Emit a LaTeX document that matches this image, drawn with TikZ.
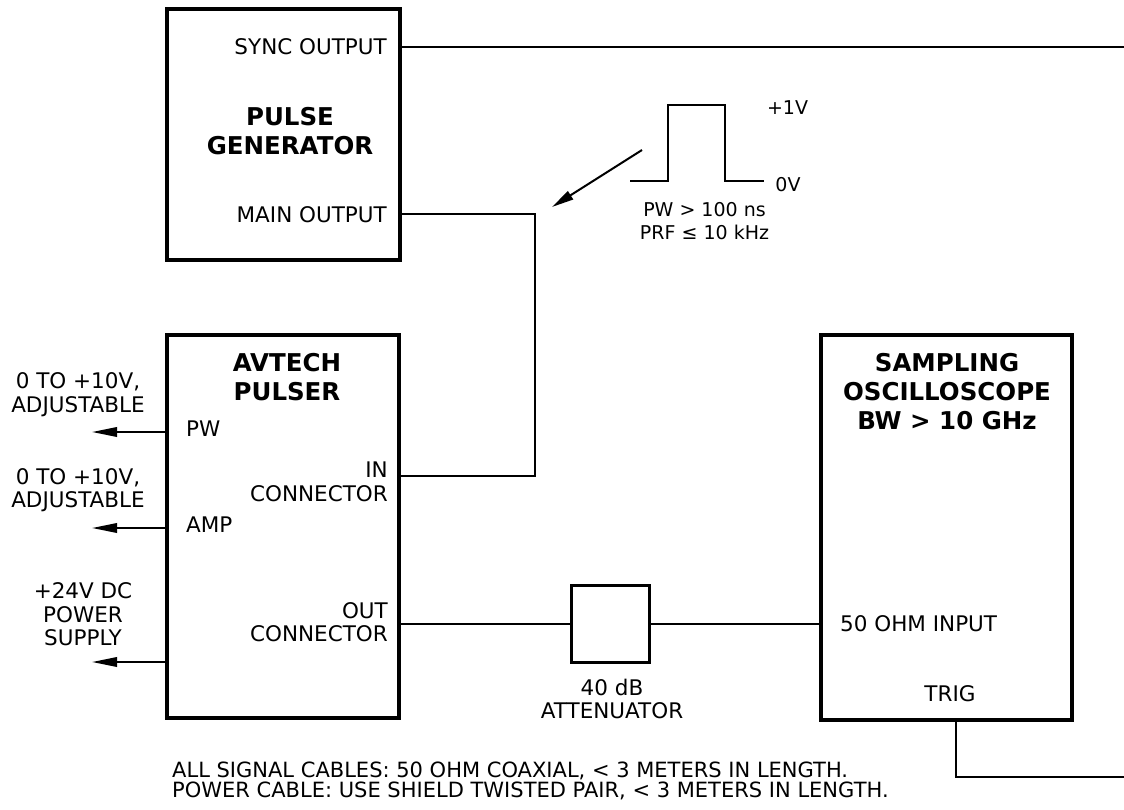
\documentclass[tikz,border=0pt]{standalone}
\usepackage{fontspec}
\setmainfont{DejaVu Sans}
\usetikzlibrary{arrows.meta,positioning}

\tikzset{
  unit/.style={draw, line width=4pt, inner sep=0pt},
  lbl/.style={inner sep=0pt, font=\fontsize{21.5}{23.5}\selectfont},
  small/.style={inner sep=0pt, font=\fontsize{19}{22.5}\selectfont, align=center},
  title/.style={inner sep=0pt, font=\fontsize{24.5}{29}\selectfont\bfseries, align=center},
  cable/.style={line width=2pt},
  feed/.style={line width=2pt, -{Triangle[length=25pt,width=9.5pt]}},
}

\begin{document}
\begin{tikzpicture}[x=1pt,y=-1pt]
\fill[white] (0,0) rectangle (1124,809);
\useasboundingbox (0,0) rectangle (1124,809);

% instruments
\node[unit, minimum width=233, minimum height=251] (gen) at (283.5,134.5) {};
\node[unit, minimum width=232, minimum height=383] (pulser) at (283,526.5) {};
\node[unit, line width=3pt, minimum width=78, minimum height=77] (att) at (610,623.5) {};
\node[unit, minimum width=251, minimum height=385] (scope) at (946.5,527.5) {};

% titles
\node[title] (gentitle) at (290,131) {PULSE\\GENERATOR};
\node[title] (pulsertitle) at (287,377) {AVTECH\\PULSER};
\node[title] (scopetitle) at (947,391.5) {SAMPLING\\OSCILLOSCOPE\\BW > 10 GHz};

% port labels
\node[lbl, anchor=east] (sync) at (387,47) {SYNC OUTPUT};
\node[lbl, anchor=east] (mainout) at (387,214.5) {MAIN OUTPUT};
\node[lbl, anchor=west] (pw) at (186,429) {PW};
\node[lbl, anchor=west] (amp) at (186,525) {AMP};
\node[lbl, anchor=east, align=right] (inconn) at (388,482) {IN\\CONNECTOR};
\node[lbl, anchor=east, align=right] (outconn) at (388,622) {OUT\\CONNECTOR};
\node[lbl, anchor=west] (input) at (840,623.5) {50 OHM INPUT};
\node[lbl] (trig) at (950,693.5) {TRIG};
\node[lbl, align=center] (attlbl) at (612,699) {40 dB\\ATTENUATOR};

% outside labels
\node[lbl, align=center] (pwset) at (78,394.5) {0 TO +10V,\\ADJUSTABLE};
\node[lbl, align=center] (ampset) at (78,490) {0 TO +10V,\\ADJUSTABLE};
\node[lbl, align=center] (power) at (83,614.5) {+24V DC\\POWER\\SUPPLY};

% pulse shape
\draw[cable] (630,181) -- (668,181) -- (668,105) -- (725,105) -- (725,181) -- (764,181);
\node[small] (high) at (787.5,108) {+1V};
\node[small] (low) at (788,184.5) {0V};
\node[small] (spec) at (704.5,221) {PW > 100 ns\\PRF ≤ 10 kHz};
\coordinate (pulsefrom) at (642,150);
\coordinate (pulseto) at (552,207);
\draw[feed, -{Triangle[length=22pt,width=9.5pt]}] (pulsefrom) -- (pulseto);

% cables
\coordinate (syncend) at (1124,47);
\coordinate (mainbend) at (535,214);
\coordinate (inbend) at (535,476);
\coordinate (trigdrop) at (956,777);
\coordinate (trigend) at (1124,777);
\draw[cable] (gen.east |- syncend) -- (syncend);
\draw[cable] (gen.east |- mainbend) -- (mainbend) -- (inbend) -- (pulser.east |- inbend);
\draw[cable] (pulser.east |- att.west) -- (att.west);
\draw[cable] (att.east) -- (scope.west |- att.east);
\draw[cable] (trigdrop |- scope.south) -- (trigdrop) -- (trigend);

% control inputs
\coordinate (pwtip) at (92,432);
\coordinate (amptip) at (92,528);
\coordinate (powertip) at (92,662);
\draw[feed] (pulser.west |- pwtip) -- (pwtip);
\draw[feed] (pulser.west |- amptip) -- (amptip);
\draw[feed] (pulser.west |- powertip) -- (powertip);

% notes
\node[lbl, font=\fontsize{21}{19.5}\selectfont, anchor=west, align=left] (notes) at (172,781) {ALL SIGNAL CABLES: 50 OHM COAXIAL, < 3 METERS IN LENGTH.\\POWER CABLE: USE SHIELD TWISTED PAIR, < 3 METERS IN LENGTH.};
\end{tikzpicture}
\end{document}
